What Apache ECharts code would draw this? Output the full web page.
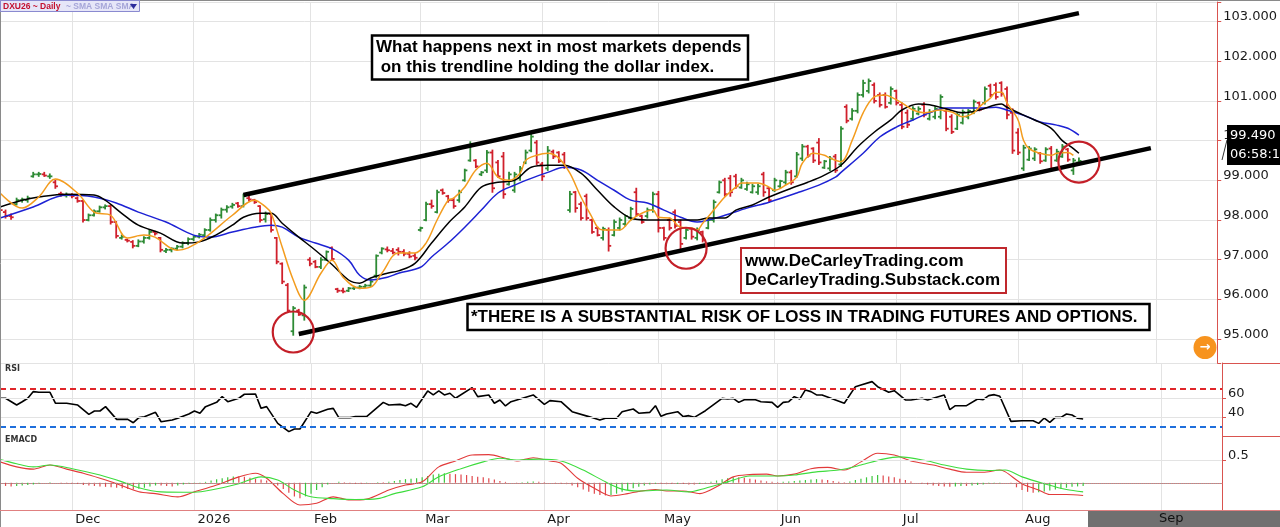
<!DOCTYPE html>
<html><head><meta charset="utf-8">
<script src="https://cdn.jsdelivr.net/npm/echarts@6.0.0/dist/echarts.min.js"></script>
<style>html,body{margin:0;padding:0;background:#fff}#c{width:1280px;height:527px}</style>
</head><body><div id="c"></div>
<script>
// ---------- categories (trading days, then calendar days for the empty future area) ----------
const holidays = ['2025-11-27','2025-12-25','2026-01-01','2026-04-03','2026-07-03'];
const firstDay = '2025-11-11';
const lastBarDay = '2026-08-18';
const slotCount = 221;
const monthNames = ['Jan','Feb','Mar','Apr','May','Jun','Jul','Aug','Sep','Oct','Nov','Dec'];

// ---------- price bars (DXU26 daily) ----------
const opens = [98.30,98.20,98.10,98.40,98.50,98.50,99.10,99.15,99.15,99.10,
98.95,98.66,98.62,98.62,98.55,98.48,98.00,98.12,98.22,98.32,
98.35,97.95,97.55,97.50,97.45,97.35,97.46,97.55,97.70,97.55,
97.22,97.25,97.28,97.33,97.42,97.52,97.58,97.62,97.75,98.00,
98.12,98.26,98.34,98.42,98.35,98.55,98.50,98.35,98.02,98.15,
97.55,96.90,96.36,95.20,95.72,95.60,97.00,96.95,96.82,97.00,
97.30,96.26,96.22,96.22,96.28,96.30,96.32,96.35,96.60,97.18,
97.26,97.22,97.25,97.20,97.15,97.10,97.75,98.00,98.40,98.20,
98.75,98.60,98.50,98.50,99.00,99.50,99.50,99.15,99.25,99.70,
99.45,99.60,98.90,98.75,99.05,99.45,99.75,99.95,99.40,99.30,
99.72,99.70,99.65,98.25,98.70,98.40,98.60,98.00,97.80,97.55,
97.75,97.62,97.80,97.90,98.05,98.70,98.10,98.10,98.25,98.65,
97.80,98.00,98.20,97.95,97.55,97.78,97.55,97.70,97.80,98.00,
98.70,99.00,99.05,99.10,98.82,98.78,98.70,98.70,99.15,98.80,
98.75,98.85,98.95,99.20,99.10,99.55,99.85,99.80,99.95,99.32,
99.30,99.60,99.40,100.85,100.55,100.75,101.15,101.25,101.40,101.15,
101.15,100.95,101.25,100.90,100.70,100.55,100.68,100.90,100.55,100.60,
100.60,100.75,100.60,100.30,100.45,100.60,100.70,100.95,100.95,101.38,
101.40,101.45,101.30,100.70,100.20,99.30,99.52,99.55,99.68,99.50,
99.80,99.50,99.60,99.78,99.25,99.45];
const highs = [98.40,98.25,98.15,98.55,98.55,98.60,99.20,99.20,99.20,99.16,
99.00,98.70,98.68,98.66,98.58,98.50,98.15,98.25,98.35,98.38,
98.38,97.96,97.62,97.52,97.48,97.50,97.58,97.75,97.72,97.56,
97.28,97.30,97.36,97.45,97.55,97.60,97.66,97.78,98.05,98.15,
98.30,98.36,98.42,98.44,98.65,98.60,98.52,98.36,98.20,98.16,
97.56,96.92,96.40,95.82,95.75,96.36,97.05,96.98,97.05,97.22,
97.32,96.28,96.28,96.30,96.33,96.35,96.38,96.50,97.12,97.30,
97.32,97.28,97.30,97.25,97.20,97.15,97.82,98.45,98.50,98.75,
98.78,98.62,98.55,98.75,99.28,99.97,99.52,99.22,99.75,99.76,
99.50,99.70,99.20,99.20,99.35,99.76,100.20,100.00,99.45,99.85,
99.76,99.72,99.70,98.72,98.72,98.45,98.65,98.02,97.82,97.82,
97.80,98.00,98.05,98.12,98.32,98.80,98.12,98.30,98.70,98.72,
97.82,98.05,98.25,98.00,97.80,97.80,97.80,97.72,98.05,98.50,
98.98,99.05,99.12,99.15,99.05,98.95,98.90,98.90,99.20,98.82,
99.05,99.00,99.25,99.25,99.70,99.90,99.88,99.82,100.05,99.50,
99.60,99.65,100.35,100.90,100.80,101.20,101.52,101.55,101.45,101.20,
101.20,101.35,101.27,100.95,100.77,100.85,100.85,100.95,100.78,100.85,
101.15,100.80,100.65,100.70,100.77,100.78,101.02,100.97,101.35,101.42,
101.45,101.48,101.35,100.80,100.30,99.88,99.85,99.82,99.70,99.82,
99.85,99.78,99.90,99.80,99.55,99.56];
const lows = [98.20,98.05,98.02,98.38,98.45,98.45,99.08,99.10,99.10,99.05,
98.80,98.60,98.58,98.56,98.45,97.95,97.98,98.10,98.20,98.28,
97.90,97.55,97.52,97.45,97.30,97.33,97.42,97.52,97.62,97.20,
97.18,97.20,97.25,97.30,97.38,97.48,97.55,97.58,97.72,97.95,
98.05,98.20,98.30,98.32,98.33,98.48,98.42,97.95,97.95,97.70,
96.90,96.40,95.68,95.10,95.60,95.48,96.85,96.80,96.78,96.98,
97.00,96.18,96.17,96.20,96.25,96.27,96.30,96.33,96.55,97.15,
97.20,97.15,97.12,97.10,97.05,97.00,97.72,97.98,98.30,98.18,
98.65,98.45,98.30,98.45,98.98,99.48,99.32,99.12,99.20,98.70,
99.08,98.55,98.88,98.70,99.00,99.42,99.72,99.40,99.00,99.25,
99.55,99.45,99.30,98.20,98.20,98.00,98.00,97.67,97.60,97.50,
97.22,97.60,97.75,97.85,98.00,98.10,97.92,98.05,98.20,97.70,
97.50,97.75,97.80,97.25,97.52,97.52,97.50,97.45,97.78,97.95,
98.68,98.60,98.60,98.80,98.80,98.75,98.68,98.65,98.60,98.45,
98.72,98.82,98.90,98.90,99.08,99.50,99.58,99.45,99.40,99.30,
99.25,99.20,99.35,100.45,100.52,100.70,101.10,101.20,100.95,100.85,
100.82,100.92,100.90,100.30,100.33,100.52,100.65,100.60,100.52,100.55,
100.55,100.25,100.18,100.28,100.42,100.55,100.68,100.75,100.92,101.10,
101.05,101.12,100.55,99.68,99.65,99.25,99.50,99.50,99.43,99.48,
99.25,99.48,99.58,99.48,99.15,99.42];
const closes = [98.25,98.10,98.07,98.50,98.52,98.55,99.15,99.16,99.12,99.10,
98.85,98.65,98.63,98.60,98.48,98.00,98.12,98.22,98.32,98.35,
97.95,97.60,97.58,97.48,97.35,97.46,97.55,97.70,97.66,97.25,
97.25,97.28,97.33,97.42,97.52,97.58,97.63,97.75,98.00,98.12,
98.26,98.32,98.38,98.35,98.60,98.52,98.45,98.00,98.15,97.75,
96.95,96.45,95.72,95.78,95.62,96.30,96.90,96.82,97.00,97.20,
97.02,96.22,96.20,96.28,96.30,96.32,96.35,96.45,97.10,97.28,
97.24,97.18,97.20,97.15,97.08,97.05,97.80,98.40,98.35,98.70,
98.68,98.50,98.35,98.70,99.25,99.90,99.35,99.20,99.70,98.80,
99.10,98.65,99.15,99.15,99.30,99.70,100.10,99.45,99.10,99.75,
99.60,99.48,99.35,98.65,98.30,98.05,98.05,97.70,97.62,97.78,
97.35,97.95,98.00,98.10,98.28,98.15,97.95,98.25,98.65,97.80,
97.55,97.80,97.85,97.40,97.75,97.58,97.75,97.50,98.00,98.45,
98.95,98.65,98.70,98.85,99.00,98.90,98.85,98.85,98.70,98.50,
99.00,98.98,99.20,98.95,99.65,99.85,99.62,99.50,99.45,99.48,
99.55,99.25,100.30,100.50,100.75,101.15,101.45,101.50,101.00,100.90,
100.85,101.30,100.95,100.35,100.40,100.80,100.80,100.65,100.72,100.80,
101.10,100.30,100.22,100.65,100.72,100.75,100.98,100.78,101.30,101.15,
101.10,101.18,100.65,99.75,99.70,99.82,99.80,99.78,99.48,99.78,
99.30,99.72,99.85,99.52,99.50,99.49];

// ---------- moving averages: [bar index, value] ----------
const orangeMA = [[0,98.68],[4,98.30],[7,98.58],[10,99.03],[14,98.68],[17,98.2],[20,98.12],[23,97.55],[26,97.62],[28,97.57],[32,97.24],[34,97.3],[37,97.55],[42,98.12],[46,98.5],[48,98.33],[49,98.17],[51,97.32],[53,96.49],[55,95.98],[58,96.66],[60,96.99],[62,96.56],[65,96.28],[67,96.31],[69,96.66],[72,97.17],[75,97.17],[77,97.42],[79,98.0],[81,98.5],[82,98.55],[84,98.83],[86,99.26],[88,99.43],[90,99.08],[92,99.0],[94,99.18],[95,99.5],[97,99.63],[99,99.68],[101,99.56],[103,99.18],[105,98.58],[107,98.07],[108,97.82],[109,97.75],[112,97.75],[114,98.0],[116,98.17],[118,98.25],[119,98.07],[121,98.05],[123,97.82],[125,97.8],[126,97.75],[127,97.92],[129,98.25],[131,98.58],[133,98.83],[134,98.93],[137,98.93],[139,98.83],[140,98.75],[142,98.88],[144,99.08],[145,99.43],[147,99.68],[149,99.63],[150,99.56],[152,99.47],[154,100.0],[156,100.7],[158,101.1],[160,101.15],[161,101.1],[163,100.95],[165,100.77],[167,100.7],[170,100.77],[172,100.72],[174,100.6],[176,100.7],[177,100.85],[179,101.07],[180,101.22],[181,101.22],[182,100.95],[184,100.52],[185,100.0],[186,99.8],[188,99.68],[190,99.63],[191,99.68],[193,99.7],[194,99.63]];
const blackMA = [[0,98.33],[4,98.5],[7,98.58],[12,98.65],[17,98.63],[19,98.5],[22,98.17],[25,97.87],[29,97.67],[33,97.42],[36,97.45],[39,97.62],[42,97.87],[44,98.07],[47,98.17],[49,98.17],[51,97.92],[54,97.57],[57,97.24],[60,96.88],[63,96.49],[65,96.41],[67,96.54],[70,96.66],[72,96.72],[75,96.91],[78,97.42],[81,97.92],[84,98.33],[87,98.83],[90,98.95],[93,99.0],[96,99.33],[99,99.38],[102,99.38],[105,99.18],[108,98.75],[111,98.33],[114,98.05],[117,98.0],[120,98.0],[123,98.0],[126,98.0],[128,98.05],[131,98.05],[133,98.25],[136,98.38],[139,98.58],[143,98.8],[146,98.95],[149,99.13],[152,99.38],[155,99.84],[158,100.21],[161,100.52],[163,100.77],[166,100.92],[168,100.9],[171,100.8],[174,100.7],[177,100.77],[181,100.92],[182,100.84],[185,100.64],[187,100.52],[190,100.31],[192,100.0],[194,99.8],[195,99.68]];
const blueMA = [[0,98.05],[6,98.33],[12,98.63],[17,98.58],[21,98.43],[25,98.2],[30,97.95],[35,97.62],[38,97.57],[42,97.7],[46,97.82],[49,97.87],[51,97.82],[54,97.57],[57,97.42],[60,97.28],[63,96.99],[65,96.61],[67,96.49],[70,96.56],[72,96.66],[76,96.81],[78,97.07],[81,97.42],[84,97.82],[87,98.25],[90,98.68],[93,98.88],[96,99.05],[99,99.2],[102,99.33],[105,99.26],[108,99.0],[111,98.75],[114,98.5],[117,98.43],[120,98.25],[123,98.07],[126,97.95],[128,98.0],[131,98.12],[135,98.3],[139,98.45],[144,98.68],[148,98.88],[151,99.08],[152,99.2],[156,99.68],[159,100.09],[162,100.34],[165,100.52],[168,100.7],[171,100.82],[174,100.82],[177,100.82],[180,100.84],[182,100.77],[185,100.64],[188,100.47],[191,100.39],[193,100.31],[195,100.14]];

// ---------- annotations ----------
const upperTrend = [[44,98.63],[195,103.21]];
const lowerTrend = [[54,95.13],[208,99.81]];
const circleMarks = [[53,95.18],[124,97.29],[195,99.46]];
const headerText = 'DXU26 ~ Daily';
const studyText = '~ SMA SMA SMA';
const noteLine1 = 'What happens next in most markets depends';
const noteLine2 = ' on this trendline holding the dollar index.';
const webLine1 = 'www.DeCarleyTrading.com';
const webLine2 = 'DeCarleyTrading.Substack.com';
const riskText = '*THERE IS A SUBSTANTIAL RISK OF LOSS IN TRADING FUTURES AND OPTIONS.';
const lastPrice = '99.490';
const countdown = '06:58:1';

// ---------- RSI ----------
const rsi = [[0,59.7],[1,59.7],[3,52.6],[4,56],[5,59.7],[6,66.7],[7,66],[9,66],[10,54.4],[12,54.4],[14,52.6],[16,42.8],[17,46.3],[18,46.3],[19,50.9],[21,37.5],[23,37.5],[24,34],[25,39.3],[26,40.3],[28,44.9],[29,35],[31,36.8],[32,38.6],[34,43.2],[35,46.3],[36,43.9],[37,50.9],[39,55.4],[40,61.4],[41,56.1],[43,59.7],[44,63.9],[46,64.2],[47,49.1],[48,50.9],[50,33.3],[52,24.6],[53,27.4],[54,27.4],[56,45.6],[57,43.9],[59,48.1],[60,49.1],[61,39.3],[63,39.3],[64,40.4],[66,40.4],[69,55.4],[70,52.6],[72,53.3],[73,51.9],[74,54.4],[75,50.2],[77,67.4],[78,63.2],[79,67.4],[80,63.2],[81,65],[82,59.7],[85,70.9],[86,61.4],[88,63.2],[89,54.4],[90,57.9],[91,51.6],[92,56.1],[96,63.2],[98,53.3],[99,57.2],[101,56.1],[103,45.6],[106,40.4],[108,36.8],[109,38.6],[111,38.6],[112,45.6],[114,48.4],[115,44],[117,44.9],[118,51.9],[119,40.7],[120,43.2],[122,45.6],[123,40.4],[124,41.4],[125,39.6],[127,46.6],[130,59.6],[131,59],[132,59.6],[133,55.4],[134,58.2],[136,58.2],[137,56.1],[139,55.4],[140,50.2],[141,55.4],[142,56.1],[143,61.4],[144,59],[145,68.5],[146,66.7],[147,63.2],[148,63.2],[152,54.4],[154,71.9],[155,73.7],[157,77.2],[158,71.9],[160,66],[161,67.7],[163,57.9],[164,57.9],[166,59.7],[167,57.9],[168,59.7],[170,63.2],[171,47.7],[172,51.9],[174,51.9],[176,58.9],[177,58.2],[178,62.5],[179,63.5],[180,61.8],[182,35.4],[184,36.1],[186,36.1],[187,33.3],[188,38.9],[189,34.4],[190,39.6],[191,39.6],[192,43.2],[193,42.1],[194,38.6],[195,37.9]];
const rsiUpper = 70, rsiLower = 30;
const rsiTicks = [40, 60];

// ---------- EMACD ----------
const macdLine = [[0,0.46],[3,0.35],[6,0.30],[9,0.39],[12,0.30],[15,0.21],[18,0.10],[21,-0.02],[25,-0.20],[28,-0.24],[32,-0.31],[35,-0.20],[39,-0.05],[43,0.13],[46,0.21],[48,0.10],[51,-0.24],[54,-0.49],[57,-0.45],[60,-0.31],[63,-0.38],[66,-0.36],[70,-0.16],[73,-0.05],[76,0.02],[79,0.35],[82,0.48],[85,0.61],[88,0.62],[91,0.54],[93,0.48],[96,0.55],[99,0.48],[101,0.43],[104,0.10],[107,-0.12],[110,-0.29],[113,-0.24],[115,-0.19],[118,-0.15],[120,-0.18],[123,-0.18],[126,-0.24],[129,-0.09],[132,0.13],[135,0.18],[138,0.19],[140,0.15],[143,0.19],[146,0.31],[149,0.34],[152,0.28],[155,0.46],[158,0.65],[161,0.61],[164,0.48],[168,0.39],[171,0.30],[174,0.23],[177,0.23],[180,0.28],[181,0.24],[184,-0.02],[187,-0.16],[189,-0.26],[192,-0.26],[195,-0.28]];
const signalLine = [[0,0.51],[3,0.42],[6,0.35],[9,0.39],[13,0.31],[18,0.17],[22,0.02],[25,-0.11],[29,-0.20],[35,-0.21],[38,-0.16],[43,-0.02],[47,0.13],[50,0.06],[53,-0.16],[56,-0.31],[60,-0.35],[64,-0.37],[68,-0.35],[71,-0.24],[76,-0.09],[79,0.13],[83,0.31],[87,0.46],[90,0.54],[93,0.50],[97,0.52],[101,0.48],[105,0.28],[109,0.02],[112,-0.14],[115,-0.18],[120,-0.16],[124,-0.20],[127,-0.12],[131,0.02],[135,0.15],[140,0.15],[143,0.17],[147,0.24],[151,0.28],[155,0.39],[159,0.52],[162,0.57],[167,0.48],[170,0.39],[174,0.30],[178,0.27],[181,0.28],[184,0.13],[188,-0.02],[192,-0.15],[195,-0.20]];
const macdHist = [-0.06,-0.07,-0.08,-0.07,
-0.06,-0.05,-0.04,-0.02,0.00,
0.01,0.00,-0.01,-0.02,-0.03,
-0.03,-0.05,-0.06,-0.07,-0.08,-0.09,-0.10,-0.11,
-0.12,-0.14,-0.15,-0.13,-0.11,-0.08,-0.06,
-0.06,-0.07,-0.08,-0.06,-0.04,-0.03,-0.02,
-0.01,0.02,0.05,0.08,0.10,0.12,0.14,
0.14,0.13,0.11,0.09,0.07,0.05,
0.00,-0.06,-0.14,-0.22,-0.30,-0.34,
-0.30,-0.24,-0.16,-0.10,-0.04,0.00,
0.02,0.01,-0.01,-0.02,-0.02,-0.01,0.00,0.01,0.01,0.02,
0.04,0.06,0.08,0.09,0.10,0.12,0.15,0.18,
0.20,0.21,0.20,0.19,0.18,0.17,0.15,0.13,
0.12,0.10,0.07,0.04,0.02,0.00,-0.01,0.01,0.02,
0.03,0.02,0.01,0.00,-0.01,-0.02,-0.03,
-0.06,-0.10,-0.15,-0.20,-0.24,-0.27,-0.28,-0.27,
-0.24,-0.20,-0.16,-0.12,-0.09,-0.06,-0.04,-0.02,
-0.02,-0.03,-0.03,-0.02,-0.03,-0.04,-0.04,-0.03,-0.01,
0.02,0.05,0.08,0.10,0.12,0.12,0.11,0.09,
0.07,0.05,0.03,0.02,0.01,0.02,0.03,0.04,0.05,0.06,
0.07,0.08,0.07,0.06,0.04,0.02,0.01,
0.03,0.06,0.09,0.12,0.15,0.17,0.16,0.14,
0.12,0.09,0.06,0.03,0.00,-0.02,-0.04,-0.06,
-0.07,-0.08,-0.09,-0.08,-0.07,-0.07,-0.06,-0.05,
-0.04,-0.03,-0.02,-0.01,0.00,-0.01,
-0.10,-0.16,-0.20,-0.22,-0.21,-0.19,-0.17,-0.15,
-0.13,-0.11,-0.09,-0.08,-0.07];
const macdTicks = [0.5];

// ---------- build category axis ----------
function iso(d){ return d.toISOString().slice(0,10); }
const categories = [];
(function(){
  const d = new Date(firstDay + 'T00:00:00Z');
  while (iso(d) <= lastBarDay) {
    const w = d.getUTCDay(), s = iso(d);
    if (w !== 0 && w !== 6 && holidays.indexOf(s) < 0) categories.push(s);
    d.setUTCDate(d.getUTCDate() + 1);
  }
  while (categories.length < slotCount) { categories.push(iso(d)); d.setUTCDate(d.getUTCDate() + 1); }
})();
function isMonthStart(i){ return i > 0 && categories[i].slice(5,7) !== categories[i-1].slice(5,7); }
function monthLabel(v){
  if (v > lastBarDay) return '';
  const m = +v.slice(5,7);
  return m === 1 ? v.slice(0,4) : monthNames[m-1];
}

const GREEN = '#2e8b35', RED = '#d0202c', AXISRED = '#d9534f', GRID = '#e3e3e3';
const ohlcData = closes.map((c,i) => [i, opens[i], highs[i], lows[i], c]);

function renderOHLC(params, api){
  const i = api.value(0);
  const o = api.value(1), h = api.value(2), l = api.value(3), c = api.value(4);
  const pH = api.coord([i,h]), pL = api.coord([i,l]), pO = api.coord([i,o]), pC = api.coord([i,c]);
  const col = c >= o ? GREEN : RED;
  const t = 2.6, st = {stroke: col, lineWidth: 1.8};
  return {type:'group', children:[
    {type:'line', shape:{x1:pH[0], y1:pH[1]-0.5, x2:pL[0], y2:pL[1]+0.5}, style:st},
    {type:'line', shape:{x1:pO[0]-t, y1:pO[1], x2:pO[0], y2:pO[1]}, style:st},
    {type:'line', shape:{x1:pC[0], y1:pC[1], x2:pC[0]+t, y2:pC[1]}, style:st}
  ]};
}

const xBase = (gi, showLabels) => ({
  type:'category', gridIndex: gi, data: categories, boundaryGap: false,
  axisLine: {show: showLabels, lineStyle:{color:'#e08080', width:1}},
  axisTick: {show:false},
  axisLabel: showLabels ? {
    show:true, interval: (i) => isMonthStart(i), formatter: (v) => monthLabel(v),
    align:'left', margin: 3, color:'#1a1a1a', fontFamily:'DejaVu Sans', fontSize:13, padding:[0,0,0,3]
  } : {show:false},
  splitLine: {show:true, interval: (i) => isMonthStart(i), lineStyle:{color: GRID, width:1}}
});
const yLabel = {color:'#1a1a1a', fontFamily:'DejaVu Sans', fontSize:13, margin:6, verticalAlign:'bottom', lineHeight:9};

const option = {
  animation: false,
  backgroundColor: '#ffffff',
  grid: [
    {left:0, right:58, top:2, height:361},
    {left:0, right:58, top:363, height:73},
    {left:0, right:58, top:436, height:74}
  ],
  xAxis: [xBase(0,false), xBase(1,false), xBase(2,true)],
  yAxis: [
    {type:'value', gridIndex:0, position:'right', min:94.4, max:103.49, splitNumber:9, minInterval:1, maxInterval:1,
     axisLine:{show:true, lineStyle:{color:AXISRED}}, axisTick:{show:true, length:4, lineStyle:{color:AXISRED}},
     axisLabel: Object.assign({}, yLabel, {formatter: v => Math.abs(v - Math.round(v)) < 1e-6 ? v.toFixed(3) : ''}),
     splitLine:{show:true, lineStyle:{color:GRID}}},
    {type:'value', gridIndex:1, position:'right', min:20, max:96.8, interval:20,
     axisLine:{show:true, lineStyle:{color:AXISRED}}, axisTick:{show:true, length:4, customValues: rsiTicks, lineStyle:{color:AXISRED}},
     axisLabel: Object.assign({}, yLabel, {formatter: v => (v === 40 || v === 60) ? String(v) : ''}),
     splitLine:{show:false}},
    {type:'value', gridIndex:2, position:'right', min:-0.6, max:1.03, splitNumber:3, minInterval:0.5, maxInterval:0.5,
     axisLine:{show:true, lineStyle:{color:AXISRED}}, axisTick:{show:true, length:4, customValues: macdTicks, lineStyle:{color:AXISRED}},
     axisLabel: Object.assign({}, yLabel, {formatter: v => Math.abs(v - 0.5) < 1e-6 ? '0.5' : ''}),
     splitLine:{show:false}}
  ],
  series: [
    {type:'custom', name:'DXU26', xAxisIndex:0, yAxisIndex:0, data: ohlcData, encode:{x:0, y:[1,2,3,4]}, renderItem: renderOHLC, clip:true, z:2},
    {type:'line', name:'SMA slow', xAxisIndex:0, yAxisIndex:0, data: blueMA, symbol:'none', smooth:0.35, lineStyle:{color:'#1d22d4', width:1.5}, z:3},
    {type:'line', name:'SMA mid', xAxisIndex:0, yAxisIndex:0, data: blackMA, symbol:'none', smooth:0.35, lineStyle:{color:'#000', width:1.5}, z:3},
    {type:'line', name:'SMA fast', xAxisIndex:0, yAxisIndex:0, data: orangeMA, symbol:'none', smooth:0.35, lineStyle:{color:'#f39c1e', width:1.5}, z:4},
    {type:'line', name:'upper', xAxisIndex:0, yAxisIndex:0, data: upperTrend, symbol:'none', lineStyle:{color:'#000', width:4.5}, z:5},
    {type:'line', name:'lower', xAxisIndex:0, yAxisIndex:0, data: lowerTrend, symbol:'none', lineStyle:{color:'#000', width:4.5}, z:5},
    {type:'scatter', name:'circles', xAxisIndex:0, yAxisIndex:0, data: circleMarks, symbol:'circle', symbolSize:41,
     itemStyle:{color:'rgba(0,0,0,0)', borderColor:'#c41f28', borderWidth:2.2, opacity:1}, z:6},
    {type:'line', name:'RSI', xAxisIndex:1, yAxisIndex:1, data: rsi, symbol:'none', lineStyle:{color:'#000', width:1.6}, z:3,
     markLine:{silent:true, symbol:'none', label:{show:false}, data:[
       {yAxis:60, lineStyle:{color:GRID, type:'solid', width:1}},
       {yAxis:40, lineStyle:{color:GRID, type:'solid', width:1}},
       {yAxis:rsiUpper, lineStyle:{color:'#e0262a', type:[6,4], width:2}},
       {yAxis:rsiLower, lineStyle:{color:'#1f6fdc', type:[6,4], width:2}}
     ]}},
    {type:'bar', name:'hist', xAxisIndex:2, yAxisIndex:2, data: macdHist, barWidth:1.2, z:2,
     itemStyle:{color: (p) => (p.dataIndex > 0 && macdHist[p.dataIndex] > macdHist[p.dataIndex-1]) ? '#3cc63c' : '#e0474c'}},
    {type:'line', name:'EMACD', xAxisIndex:2, yAxisIndex:2, data: macdLine, symbol:'none', smooth:0.3, lineStyle:{color:'#e23a3a', width:1.1}, z:3},
    {type:'line', name:'Signal', xAxisIndex:2, yAxisIndex:2, data: signalLine, symbol:'none', smooth:0.3, lineStyle:{color:'#3ddc3d', width:1.1}, z:3,
     markLine:{silent:true, symbol:'none', label:{show:false}, data:[
       {yAxis:0.5, lineStyle:{color:GRID, type:'solid', width:1}},
       {yAxis:0, lineStyle:{color:'#9a9a9a', type:'dotted', width:1}}
     ]}}
  ],
  graphic: [
    {type:'line', z:100, shape:{x1:0, y1:0.5, x2:1280, y2:0.5}, style:{stroke:'#8a8a8a', lineWidth:1}},
    {type:'line', z:100, shape:{x1:0.5, y1:0, x2:0.5, y2:527}, style:{stroke:'#8a8a8a', lineWidth:1}},
    {type:'line', z:100, shape:{x1:1222, y1:363.5, x2:1280, y2:363.5}, style:{stroke:AXISRED, lineWidth:1}},
    {type:'line', z:100, shape:{x1:1222, y1:436.5, x2:1280, y2:436.5}, style:{stroke:AXISRED, lineWidth:1}},
    {type:'line', z:100, shape:{x1:0, y1:510.5, x2:1280, y2:510.5}, style:{stroke:'#e08080', lineWidth:1}},
    {type:'rect', z:100, shape:{x:1088, y:511, width:192, height:16}, style:{fill:'#707070'}},
    {type:'text', z:101, x:1159, y:519, style:{text:'Sep', fill:'#111', font:'13px "DejaVu Sans"', verticalAlign:'middle'}},
    // header
    {type:'rect', z:100, shape:{x:0.5, y:0.5, width:139, height:11}, style:{fill:'#e6e6f8', stroke:'#8a8ad0', lineWidth:1}},
    {type:'text', z:101, x:3, y:6.5, style:{text:headerText, fill:'#c4102e', font:'bold 8.5px "Liberation Sans"', verticalAlign:'middle'}},
    {type:'text', z:101, x:66, y:6.5, style:{text:studyText, fill:'#a6a6d8', font:'bold 8.5px "Liberation Sans"', verticalAlign:'middle'}},
    {type:'polygon', z:101, shape:{points:[[130,4],[137,4],[133.5,9]]}, style:{fill:'#2b2b9c'}},
    {type:'text', z:101, x:5, y:369, style:{text:'RSI', fill:'#333', font:'bold 8px "DejaVu Sans"', verticalAlign:'middle'}},
    {type:'text', z:101, x:5, y:440, style:{text:'EMACD', fill:'#333', font:'bold 8px "DejaVu Sans"', verticalAlign:'middle'}},
    // note box
    {type:'rect', z:100, shape:{x:372, y:35.5, width:376, height:44}, style:{fill:'#fff', stroke:'#000', lineWidth:2.5}},
    {type:'text', z:101, x:376, y:47.5, style:{text:noteLine1, fill:'#000', font:'bold 17px "Liberation Sans"', verticalAlign:'middle'}},
    {type:'text', z:101, x:376, y:67, style:{text:noteLine2, fill:'#000', font:'bold 17px "Liberation Sans"', verticalAlign:'middle'}},
    // web box
    {type:'rect', z:100, shape:{x:741, y:248, width:265, height:45}, style:{fill:'#fff', stroke:'#c0282d', lineWidth:2}},
    {type:'text', z:101, x:745, y:261, style:{text:webLine1, fill:'#000', font:'bold 17px "Liberation Sans"', verticalAlign:'middle'}},
    {type:'text', z:101, x:745, y:280, style:{text:webLine2, fill:'#000', font:'bold 17px "Liberation Sans"', verticalAlign:'middle'}},
    // risk box
    {type:'rect', z:100, shape:{x:467.5, y:304, width:682, height:26}, style:{fill:'#fff', stroke:'#000', lineWidth:2.5}},
    {type:'text', z:101, x:471, y:317.5, style:{text:riskText, fill:'#000', font:'bold 17px "Liberation Sans"', verticalAlign:'middle'}},
    // last price box
    {type:'line', z:100, shape:{x1:1222, y1:160, x2:1227, y2:140}, style:{stroke:'#333', lineWidth:1}},
    {type:'rect', z:100, shape:{x:1227, y:125, width:53, height:40}, style:{fill:'#000'}},
    {type:'text', z:101, x:1230, y:135.5, style:{text:lastPrice, fill:'#fff', font:'13px "DejaVu Sans"', verticalAlign:'middle'}},
    {type:'text', z:101, x:1230, y:154.5, style:{text:countdown, fill:'#fff', font:'13px "DejaVu Sans"', verticalAlign:'middle'}},
    // orange button
    {type:'circle', z:100, shape:{cx:1205, cy:347.5, r:11.5}, style:{fill:'#f7931e'}},
    {type:'text', z:101, x:1205, y:347.5, style:{text:'\u2192', fill:'#fff', font:'bold 13px "DejaVu Sans"', align:'center', verticalAlign:'middle'}}
  ]
};
const chart = echarts.init(document.getElementById('c'), null, {renderer:'canvas'});
chart.setOption(option);
</script></body></html>
